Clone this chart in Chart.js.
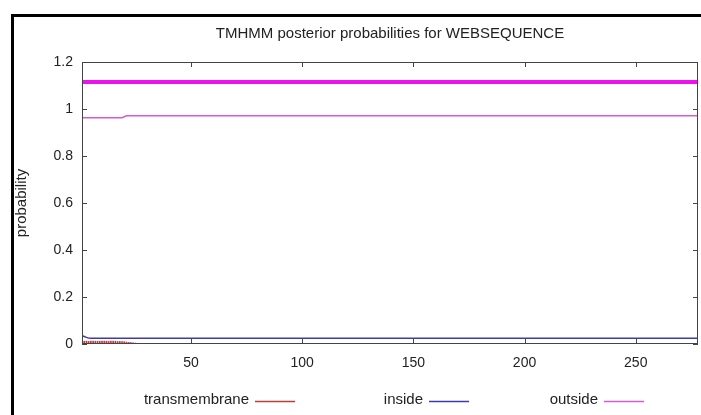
<!DOCTYPE html>
<html>
<head>
<meta charset="utf-8">
<script src="https://cdn.jsdelivr.net/npm/chart.js@4.4.0/dist/chart.umd.min.js"></script>
<style>
  html, body { margin: 0; padding: 0; background: #fff; }
  #wrap { position: relative; width: 701px; height: 415px; overflow: hidden; }
  #frame { position: absolute; left: 11px; top: 14px; width: 700px; height: 420px;
           border-left: 3px solid #000; border-top: 3px solid #000; pointer-events: none; }
  canvas { position: absolute; left: 0; top: 0; }
</style>
</head>
<body>
<div id="wrap">
  <canvas id="c" width="701" height="415"></canvas>
  <div id="frame"></div>
</div>
<script>
// ---- data ----
const chartTitle = "TMHMM posterior probabilities for WEBSEQUENCE";
const yAxisTitle = "probability";
const xRange = [1, 278];
const yRange = [0, 1.2];
const xTicks = [50, 100, 150, 200, 250];
const yTicks = [0, 0.2, 0.4, 0.6, 0.8, 1, 1.2];
const seriesNames = ["transmembrane", "inside", "outside"];

// transmembrane posterior (impulses)
const tmPos = [1,2,3,4,5,6,7,8,9,10,11,12,13,14,15,16,17,18,19,20,21,22,23,24,25,26,27];
const tmVal = [0.011,0.012,0.012,0.011,0.012,0.012,0.012,0.012,0.012,0.012,0.012,0.012,0.011,0.012,0.012,0.012,0.011,0.011,0.010,0.010,0.008,0.007,0.006,0.005,0.004,0.003,0.002];

// inside posterior
const inPos = [1, 2, 3, 4, 5, 278];
const inVal = [0.035, 0.032, 0.028, 0.025, 0.024, 0.024];

// outside posterior
const outPos = [1, 19, 21, 278];
const outVal = [0.963, 0.963, 0.971, 0.971];

// predicted topology band (outside region along whole sequence)
const bandPos = [1, 278];
const bandVal = [1.115, 1.115];

const colors = { tm: "#c03a3a", inside: "#3c3cb0", outside: "#d45ad4", band: "#ee10ee" };

const zip = (xs, ys) => xs.map((x, i) => ({ x: x, y: ys[i] }));

const FONT = "Liberation Sans, Arial, sans-serif";

const framePlugin = {
  id: "framePlugin",
  afterDraw(chart) {
    const ctx = chart.ctx;
    const a = chart.chartArea;
    const xs = chart.scales.x, ys = chart.scales.y;
    ctx.save();
    ctx.strokeStyle = "#444";
    ctx.lineWidth = 1;
    ctx.strokeRect(a.left + 0.5, a.top + 0.5, a.right - a.left - 1, a.bottom - a.top - 1);
    ctx.beginPath();
    const tl = 5;
    xTicks.forEach(v => {
      const px = Math.round(xs.getPixelForValue(v)) + 0.5;
      ctx.moveTo(px, a.bottom); ctx.lineTo(px, a.bottom - tl);
      ctx.moveTo(px, a.top); ctx.lineTo(px, a.top + tl);
    });
    yTicks.forEach(v => {
      const py = Math.round(ys.getPixelForValue(v)) + 0.5;
      ctx.moveTo(a.left, py); ctx.lineTo(a.left + tl, py);
      ctx.moveTo(a.right, py); ctx.lineTo(a.right - tl, py);
    });
    ctx.stroke();

    // title
    ctx.fillStyle = "#222";
    ctx.font = "15px " + FONT;
    ctx.textAlign = "center";
    ctx.textBaseline = "middle";
    ctx.fillText(chartTitle, (a.left + a.right) / 2, 34);

    // y axis title
    ctx.save();
    ctx.translate(22, 203);
    ctx.rotate(-Math.PI / 2);
    ctx.fillText(yAxisTitle, 0, 0);
    ctx.restore();

    // legend: text then line sample
    const leg = [
      { name: seriesNames[0], color: colors.tm, x: 255 },
      { name: seriesNames[1], color: colors.inside, x: 429 },
      { name: seriesNames[2], color: colors.outside, x: 604 }
    ];
    ctx.textAlign = "right";
    leg.forEach(l => {
      ctx.fillStyle = "#222";
      ctx.fillText(l.name, l.x - 6, 400);
      ctx.strokeStyle = l.color;
      ctx.lineWidth = 1.5;
      ctx.beginPath();
      ctx.moveTo(l.x, 401.5); ctx.lineTo(l.x + 40, 401.5);
      ctx.stroke();
    });
    ctx.restore();
  }
};

new Chart(document.getElementById("c"), {
  data: {
    datasets: [
      { type: "bar", label: seriesNames[0], data: zip(tmPos, tmVal),
        backgroundColor: colors.tm, barThickness: 1, borderWidth: 0, order: 3 },
      { type: "line", label: seriesNames[1], data: zip(inPos, inVal),
        borderColor: colors.inside, borderWidth: 1.5, pointRadius: 0, tension: 0, order: 2 },
      { type: "line", label: seriesNames[2], data: zip(outPos, outVal),
        borderColor: colors.outside, borderWidth: 1.5, pointRadius: 0, tension: 0, order: 1 },
      { type: "line", label: "band", data: zip(bandPos, bandVal),
        borderColor: colors.band, borderWidth: 4, pointRadius: 0, tension: 0, order: 0 }
    ]
  },
  options: {
    responsive: false,
    animation: false,
    layout: { padding: { top: 62, right: 3, left: 0, bottom: 0 } },
    plugins: { legend: { display: false }, title: { display: false }, tooltip: { enabled: false } },
    scales: {
      x: {
        type: "linear", min: xRange[0], max: xRange[1], offset: false,
        grid: { display: false, offset: false }, border: { display: false },
        afterBuildTicks(s) { s.ticks = xTicks.map(v => ({ value: v })); },
        afterFit(s) { s.height = 71; },
        ticks: { color: "#222", font: { family: FONT, size: 14 }, padding: 3, maxRotation: 0 }
      },
      y: {
        type: "linear", min: yRange[0], max: yRange[1],
        grid: { display: false }, border: { display: false },
        afterBuildTicks(s) { s.ticks = yTicks.map(v => ({ value: v })); },
        afterFit(s) { s.width = 82; },
        ticks: { color: "#222", font: { family: FONT, size: 14 }, padding: 1,
                 callback: v => String(v) }
      }
    }
  },
  plugins: [framePlugin]
});
</script>
</body>
</html>
